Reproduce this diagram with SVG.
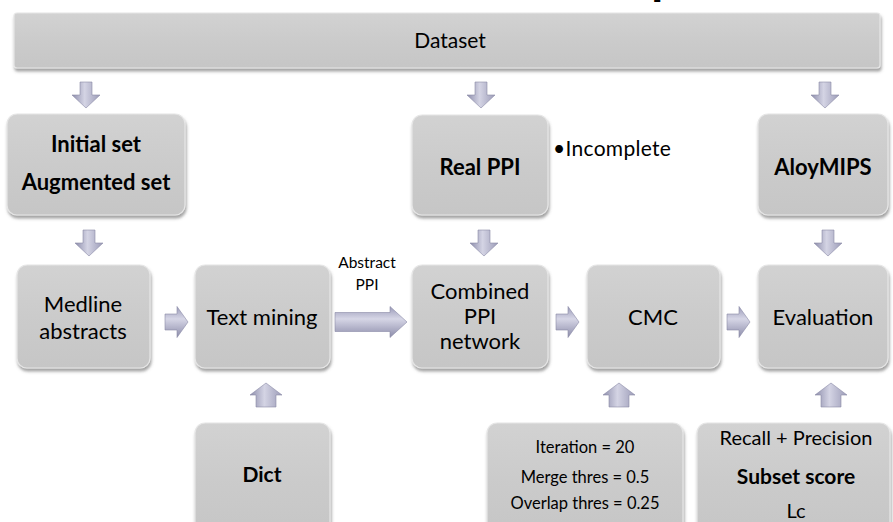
<svg xmlns="http://www.w3.org/2000/svg" xmlns:xlink="http://www.w3.org/1999/xlink" width="893" height="522" viewBox="0 0 893 522">
  <defs>
    <style>
      .box { fill: url(#boxFill); stroke: #e6e6e6; stroke-width: 1.2; filter: url(#shadow); }
      .t { font-family: Lato, "Open Sans", "Liberation Sans", sans-serif; fill: #000; text-anchor: middle; }
      .b { font-weight: bold; }
      .arrowV { fill: url(#arrowGradV); stroke: #8a8aa6; stroke-width: 0.6; }
      .arrowH { fill: url(#arrowGradH); stroke: #8a8aa6; stroke-width: 0.6; }
    </style>
    <linearGradient id="boxFill" x1="0" y1="0" x2="0" y2="1">
      <stop offset="0" stop-color="#d2d2d2"/>
      <stop offset="0.5" stop-color="#cbcbcb"/>
      <stop offset="1" stop-color="#c6c6c6"/>
    </linearGradient>
    <linearGradient id="arrowGradV" x1="0" y1="0" x2="1" y2="0">
      <stop offset="0" stop-color="#8e8eac"/>
      <stop offset="0.45" stop-color="#d4d4e4"/>
      <stop offset="1" stop-color="#9c9cb8"/>
    </linearGradient>
    <linearGradient id="arrowGradH" x1="0" y1="0" x2="0" y2="1">
      <stop offset="0" stop-color="#9a9ab8"/>
      <stop offset="0.4" stop-color="#d6d6e6"/>
      <stop offset="1" stop-color="#8c8caa"/>
    </linearGradient>
    <filter id="shadow" x="-10%" y="-10%" width="125%" height="130%">
      <feDropShadow dx="1" dy="3" stdDeviation="1.5" flood-color="#555" flood-opacity="0.55"/>
    </filter>
    <path id="down" d="M-6,0 h12 v13 h8 l-14,13 l-14,-13 h8 z"/>
    <path id="up" d="M0,0 l16,12 h-6 v12 h-20 v-12 h-6 z"/>
    <path id="rightSmall" d="M0,-8 h12 v-7.5 l11,15.5 l-11,15.5 v-7.5 h-12 z"/>
    <path id="rightLong" d="M0,-9.5 h55 v-6 l17,15.5 l-17,15.5 v-6 h-55 z"/>
  </defs>

  <rect width="893" height="522" fill="#fff"/>

  <!-- heading glyph running off the top edge -->
  <text x="651" y="-7" font-family="'Liberation Mono', monospace" font-weight="bold" font-size="44" fill="#000">p</text>

  <!-- connectors -->
  <g id="connectors">
    <use href="#down" class="arrowV" x="86" y="82"/>
    <use href="#down" class="arrowV" x="481" y="82"/>
    <use href="#down" class="arrowV" x="825" y="82"/>
    <use href="#down" class="arrowV" x="89" y="230"/>
    <use href="#down" class="arrowV" x="484" y="230"/>
    <use href="#down" class="arrowV" x="828" y="230"/>
    <use href="#rightSmall" class="arrowH" x="165" y="322"/>
    <use href="#rightLong" class="arrowH" x="335" y="322"/>
    <use href="#rightSmall" class="arrowH" x="556" y="322"/>
    <use href="#rightSmall" class="arrowH" x="727" y="322"/>
    <use href="#up" class="arrowV" x="266" y="383"/>
    <use href="#up" class="arrowV" x="619" y="383"/>
    <use href="#up" class="arrowV" x="831" y="383"/>
    <g id="label-abstract-ppi">
      <text class="t" x="367" y="268" font-size="15.5">Abstract</text>
      <text class="t" x="367" y="290" font-size="15.5">PPI</text>
    </g>
  </g>

  <g id="dataset">
    <rect class="box" x="14" y="13" width="866" height="55" rx="3"/>
    <text class="t" x="450" y="48" font-size="21">Dataset</text>
  </g>

  <g id="initial-set">
    <rect class="box" x="7" y="114" width="178" height="101" rx="10"/>
    <text class="t b" x="96" y="152" font-size="22">Initial set</text>
    <text class="t b" x="96" y="190" font-size="22">Augmented set</text>
  </g>

  <g id="real-ppi">
    <rect class="box" x="412" y="115" width="136" height="100" rx="10"/>
    <text class="t b" x="480" y="175" font-size="22">Real PPI</text>
  </g>

  <g id="incomplete-note">
    <text x="553" y="156" font-family="Lato, 'Open Sans', 'Liberation Sans', sans-serif" font-size="21" fill="#000" letter-spacing="0.3">•Incomplete</text>
  </g>

  <g id="aloymips">
    <rect class="box" x="758" y="114" width="130" height="101" rx="10"/>
    <text class="t b" x="823" y="175" font-size="22">AloyMIPS</text>
  </g>

  <g id="medline">
    <rect class="box" x="17" y="265" width="133" height="103" rx="10"/>
    <text class="t" x="83" y="312" font-size="22">Medline</text>
    <text class="t" x="83" y="339" font-size="22">abstracts</text>
  </g>

  <g id="text-mining">
    <rect class="box" x="195" y="265" width="135" height="103" rx="10"/>
    <text class="t" x="262" y="325" font-size="22">Text mining</text>
  </g>

  <g id="combined">
    <rect class="box" x="412" y="265" width="136" height="103" rx="10"/>
    <text class="t" x="480" y="299" font-size="22">Combined</text>
    <text class="t" x="480" y="324" font-size="22">PPI</text>
    <text class="t" x="480" y="349" font-size="22">network</text>
  </g>

  <g id="cmc">
    <rect class="box" x="587" y="265" width="133" height="103" rx="10"/>
    <text class="t" x="653" y="325" font-size="22">CMC</text>
  </g>

  <g id="evaluation">
    <rect class="box" x="758" y="265" width="130" height="103" rx="10"/>
    <text class="t" x="823" y="325" font-size="22">Evaluation</text>
  </g>

  <g id="dict">
    <rect class="box" x="195" y="423" width="135" height="110" rx="10"/>
    <text class="t b" x="262" y="482" font-size="21">Dict</text>
  </g>

  <g id="cmc-params">
    <rect class="box" x="487" y="423" width="196" height="110" rx="10"/>
    <text class="t" x="585" y="453" font-size="16.5">Iteration = 20</text>
    <text class="t" x="585" y="483" font-size="16.5">Merge thres = 0.5</text>
    <text class="t" x="585" y="509" font-size="16.5">Overlap thres = 0.25</text>
  </g>

  <g id="eval-measures">
    <rect class="box" x="697" y="423" width="193" height="110" rx="10"/>
    <text class="t" x="796" y="445" font-size="20">Recall + Precision</text>
    <text class="t b" x="796" y="484" font-size="21">Subset score</text>
    <text class="t" x="796" y="518" font-size="20">Lc</text>
  </g>
</svg>
